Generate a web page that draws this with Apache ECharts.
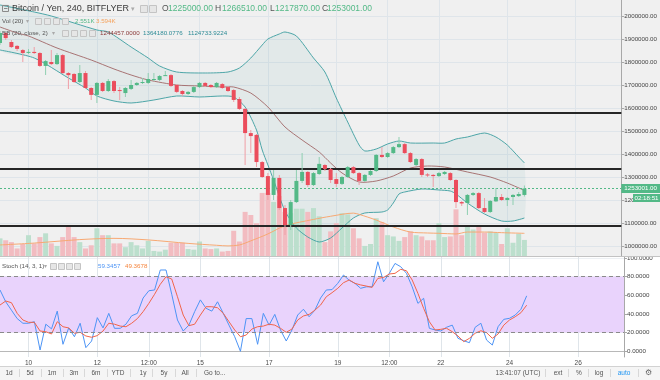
<!DOCTYPE html>
<html>
<head>
<meta charset="utf-8">
<script src="https://cdn.jsdelivr.net/npm/echarts@6/dist/echarts.min.js"></script>
<style>
html,body{margin:0;padding:0;background:#fff;}
#chart{width:660px;height:380px;}
</style>
</head>
<body>
<div id="chart"></div>
<script>
// ---------- data ----------
const slotCount = 110;
const tickIndex = [5, 17, 26, 35, 47, 59, 68, 77, 89, 101];
const tickText = ['10', '12', '12:00', '15', '17', '19', '12:00', '22', '24', '26'];

const open = [1886000,1929000,1890000,1873000,1855000,1844000,1847000,1842000,1786000,1803000,
1794000,1833000,1755000,1751000,1716000,1755000,1690000,1660000,1712000,1677000,
1720000,1681000,1668000,1686000,1703000,1712000,1712000,1725000,1725000,1744000,
1746000,1703000,1677000,1664000,1673000,1694000,1712000,1703000,1694000,1707000,
1694000,1681000,1642000,1599000,1494000,1486000,1368000,1307000,1225000,1299000,
1168000,1094000,1194000,1286000,1325000,1268000,1316000,1355000,1338000,1294000,
1273000,1303000,1346000,1320000,1286000,1312000,1329000,1399000,1390000,1407000,
1433000,1446000,1407000,1355000,1381000,1314000,1312000,1307000,1316000,1320000,
1290000,1194000,1190000,1225000,1233000,1168000,1151000,1197000,1216000,1203000,
1216000,1220000,1225000];
const close = [1929000,1907000,1868000,1860000,1842000,1847000,1842000,1786000,1807000,1794000,
1833000,1755000,1746000,1716000,1755000,1690000,1660000,1712000,1677000,1720000,
1677000,1677000,1690000,1703000,1712000,1716000,1729000,1729000,1742000,1746000,
1699000,1673000,1664000,1673000,1694000,1712000,1699000,1694000,1712000,1690000,
1677000,1638000,1599000,1494000,1481000,1368000,1303000,1225000,1299000,1168000,
1094000,1194000,1286000,1325000,1268000,1320000,1360000,1338000,1290000,1273000,
1303000,1346000,1320000,1286000,1312000,1329000,1399000,1390000,1407000,1433000,
1446000,1407000,1368000,1381000,1312000,1310000,1307000,1320000,1325000,1290000,
1194000,1188000,1225000,1233000,1168000,1151000,1199000,1216000,1203000,1212000,
1225000,1229000,1253001];
const low = [1877000,1899000,1864000,1851000,1803000,1838000,1838000,1781000,1746000,1790000,
1790000,1751000,1686000,1712000,1712000,1686000,1638000,1625000,1673000,1673000,
1668000,1638000,1651000,1681000,1699000,1707000,1707000,1720000,1720000,1742000,
1694000,1668000,1655000,1660000,1668000,1690000,1694000,1690000,1690000,1686000,
1673000,1629000,1594000,1355000,1407000,1346000,1299000,1203000,1203000,1160000,
1051000,1073000,1190000,1277000,1260000,1264000,1312000,1329000,1277000,1260000,
1268000,1299000,1316000,1268000,1281000,1307000,1325000,1386000,1386000,1403000,
1429000,1403000,1364000,1351000,1303000,1303000,1260000,1303000,1312000,1286000,
1168000,1177000,1138000,1220000,1164000,1146000,1146000,1194000,1199000,1177000,
1181000,1216000,1217870];
const high = [1938000,1933000,1899000,1877000,1860000,1860000,1868000,1847000,1812000,1855000,
1842000,1838000,1760000,1755000,1790000,1764000,1694000,1716000,1716000,1729000,
1725000,1694000,1694000,1725000,1716000,1733000,1755000,1755000,1746000,1764000,
1751000,1707000,1681000,1677000,1699000,1716000,1716000,1707000,1716000,1712000,
1699000,1686000,1651000,1603000,1507000,1490000,1373000,1320000,1333000,1312000,
1181000,1203000,1333000,1407000,1329000,1325000,1390000,1360000,1342000,1320000,
1307000,1351000,1351000,1325000,1316000,1333000,1403000,1433000,1412000,1438000,
1477000,1451000,1412000,1386000,1386000,1320000,1316000,1325000,1329000,1325000,
1294000,1199000,1229000,1238000,1238000,1212000,1203000,1255000,1229000,1216000,
1229000,1238000,1266510];
// volume in thousands
const volume = [2.8,2.5,2.2,1.2,1.9,3.3,2.0,3.0,3.6,2.0,
1.6,3.0,4.7,3.0,2.2,1.2,1.7,4.4,3.3,3.3,
2.0,2.0,1.4,2.2,1.7,1.2,2.4,0.8,0.7,1.0,
2.1,2.1,2.1,1.1,1.0,2.3,1.2,1.1,1.2,0.7,
0.8,4.0,2.3,7.0,6.5,5.2,10.0,10.0,8.6,9.5,
7.0,6.8,7.5,7.5,7.0,7.6,6.3,2.2,3.9,5.2,
6.8,6.6,4.4,2.8,1.6,1.9,6.0,5.4,3.3,3.1,
2.4,3.0,3.9,3.3,3.1,2.5,2.5,5.2,3.0,3.1,
7.4,3.3,4.8,4.2,4.8,3.7,3.9,3.7,1.9,4.4,
2.1,3.5,2.551];
const volMA = [[0,1.75],[6,2.05],[14,2.6],[20,2.8],[26,2.55],[33,2.0],[38,1.7],[40,1.6],[42,1.75],
[44,2.4],[47,3.5],[50,4.8],[55,5.8],[58,6.3],[62,6.8],[63,6.6],[66,5.7],[69,4.6],[72,3.8],
[75,3.65],[77,3.6],[80,3.5],[82,3.8],[85,3.8],[88,3.7],[92,3.594]];
const bbUpper = [[0,2050900],[6,2020400],[9,2003000],[17,1942200],[19,1933500],[23,1868200],[26,1820400],
[28,1785600],[31,1759500],[36,1755200],[40,1759500],[42,1776900],[44,1820400],[46,1876900],[47,1903000],
[49,1924800],[50,1933500],[52,1916100],[55,1820400],[57,1759500],[59,1646500],[61,1542100],[63,1442100],
[64,1416100],[66,1424700],[68,1446500],[70,1459500],[72,1450800],[76,1450800],[78,1450800],[80,1468200],
[82,1476900],[85,1494300],[87,1476900],[89,1442100],[91,1390000],[92,1364180]];
const bbMiddle = [[0,1955200],[3,1929100],[5,1916100],[10,1863900],[16,1811700],[20,1772600],[23,1746500],
[26,1724800],[31,1703000],[35,1698700],[39,1694300],[41,1694300],[44,1668000],[47,1607400],[50,1520400],
[53,1463900],[56,1411700],[58,1363900],[60,1320400],[63,1281300],[66,1285600],[69,1307400],[72,1342100],
[75,1350800],[78,1346500],[82,1324800],[86,1303000],[89,1276900],[92,1244457]];
const bbLower = [[0,1855200],[6,1820400],[12,1733500],[15,1690000],[17,1655200],[20,1633500],[23,1624800],
[27,1637800],[31,1655200],[35,1650900],[39,1655200],[41,1650900],[43,1607400],[45,1507400],[46,1420400],
[47,1355200],[48,1290000],[50,1155200],[52,1081300],[54,1042100],[56,1020400],[58,1037800],[60,1081300],
[62,1124700],[64,1146500],[67,1150800],[68,1159500],[69,1190000],[70,1229100],[71,1237800],[74,1250800],
[77,1246500],[79,1242100],[80,1229100],[82,1190000],[85,1142100],[88,1111700],[90,1111700],[92,1124733]];
const stochK = [65.6,53,44,35,30,30,31.7,1.4,29,24,
43,7.5,25,15.6,30,3.9,11,36,25,40.6,
24.6,24.6,29,38,40.6,57,64.8,65.6,87,87,
61,33.5,21.7,28,42.4,55,46,43,53,40.6,
28,15.6,0,35,35,7.5,40.6,28,39.5,22.8,
11,22.8,38.8,45,37,44,57,65.6,66,72.7,
81.6,76,72.7,67.4,69,69,95.8,74.4,83.4,94,
90.5,83.4,69,51.3,56.7,24.6,22.8,21.7,25.7,28,
13.9,11.3,9.2,25.7,30,12,6.7,26.3,34.2,35.3,
38.8,45,59.3457];
const stochD = [49.5,53.8,52,40.6,33.5,31,31,21.7,21,18.5,
31.7,26.3,25,19.3,20.3,16.4,15,16.8,21.7,30,
29,27,26.3,30,35,42.4,51.3,61,71.7,79.8,
77.3,58.4,38.8,27.4,29,38.8,47.7,47.7,46.6,40.6,
31.7,22.8,15.6,17.4,23.8,26.3,27,29,28,24.6,
20.3,23.8,33.5,37.8,39.5,44,49.5,58.4,62.7,67.4,
73.4,76.3,72.7,71,69.8,68.4,78,79,82.7,83.4,
87.7,86.2,76.3,62,46,31.7,22.8,23.5,24.6,21,
16.4,10.3,13.9,19.3,22,19.9,13.9,18.5,28,33.5,
37,41.3,49.3678];
const levels = [1582000, 1338000, 1093000];
const priceTicks = [1000000,1100000,1200000,1300000,1400000,1500000,1600000,1700000,1800000,1900000,2000000];
const stochTicks = [0, 20, 40, 60, 80, 100];
const lastPrice = 1253001;
const countdown = '02:18:51';

// ---------- style ----------
const FONT = 'Liberation Sans, Arial, sans-serif';
const UP = '#53b987', DOWN = '#eb4d5c';
const WICK_UP = '#8fcfb1', WICK_DOWN = '#f09ea6';
const VOL_UP = '#bcdfcd', VOL_DOWN = '#f2bcc1';
const BB_EDGE = '#4da6a8', BB_MID = '#9e5f5f', BB_FILL = 'rgba(40,140,140,0.07)';
const GRID_C = '#dfe5ea';
const AX_C = '#a8a8a8';

const cats = [];
for (let i = 0; i < slotCount; i++) cats.push(String(i));
const isTick = (idx) => tickIndex.indexOf(idx) >= 0;

const chart = echarts.init(document.getElementById('chart'), null, {renderer: 'canvas'});

function renderFill(params, api) {
  const pts = bbUpper.map(d => api.coord(d)).concat(bbLower.slice().reverse().map(d => api.coord(d)));
  return {type: 'polygon', shape: {points: pts, smooth: 0.25}, style: {fill: BB_FILL}};
}
function renderBB(params, api) {
  const mk = arr => arr.map(d => api.coord(d));
  return {type: 'group', children: [
    {type: 'polyline', shape: {points: mk(bbUpper), smooth: 0.25}, style: {stroke: BB_EDGE, lineWidth: 1, fill: null}},
    {type: 'polyline', shape: {points: mk(bbLower), smooth: 0.25}, style: {stroke: BB_EDGE, lineWidth: 1, fill: null}},
    {type: 'polyline', shape: {points: mk(bbMiddle), smooth: 0.25}, style: {stroke: BB_MID, lineWidth: 1, fill: null, opacity: 0.85}}
  ]};
}
function renderCandle(params, api) {
  const i = api.value(0);
  const o = api.value(1), c = api.value(2), l = api.value(3), h = api.value(4);
  const po = api.coord([i, o]), pc = api.coord([i, c]), pl = api.coord([i, l]), ph = api.coord([i, h]);
  const up = c >= o;
  const x = po[0];
  const top = Math.min(po[1], pc[1]);
  const hgt = Math.max(1, Math.abs(po[1] - pc[1]));
  return {type: 'group', children: [
    {type: 'rect', shape: {x: x - 0.5, y: ph[1], width: 1, height: pl[1] - ph[1]}, style: {fill: up ? WICK_UP : WICK_DOWN}},
    {type: 'rect', shape: {x: x - 2, y: top, width: 4, height: hgt}, style: {fill: up ? UP : DOWN}}
  ]};
}

function txt(x, y, s, size, color, align, weight) {
  return {type: 'text', x: x, y: y, z: 100, silent: true,
    style: {text: s, fontSize: size, fill: color, fontFamily: FONT, align: align || 'left', verticalAlign: 'middle', fontWeight: weight || 'normal'}};
}
function box(x, y, w, h) {
  return {type: 'rect', z: 100, silent: true, shape: {x: x, y: y, width: w, height: h}, style: {fill: '#e6e6e6', stroke: '#c4c4c4', lineWidth: 1}};
}
function vline(x, y1, y2, c) {
  return {type: 'line', z: 100, silent: true, shape: {x1: x, y1: y1, x2: x, y2: y2}, style: {stroke: c, lineWidth: 1}};
}

const graphics = [
  {type: 'rect', z: -100, silent: true, shape: {x: 0, y: 0, width: 660, height: 257}, style: {fill: '#f0f0f0'}},
  {type: 'rect', z: -100, silent: true, shape: {x: 0, y: 366, width: 660, height: 14}, style: {fill: '#f5f5f5'}},
  {type: 'line', z: 50, silent: true, shape: {x1: 0, y1: 366.5, x2: 660, y2: 366.5}, style: {stroke: '#d2d2d2', lineWidth: 1}},
  {type: 'rect', z: 60, silent: true, shape: {x: 625, y: 251.5, width: 35, height: 5}, style: {fill: '#f0f0f0'}},
  {type: 'line', z: 61, silent: true, shape: {x1: 0, y1: 256.5, x2: 660, y2: 256.5}, style: {stroke: '#c3c3c3', lineWidth: 1}},
  // header
  {type: 'rect', z: 100, silent: true, shape: {x: 2.5, y: 5.5, width: 6, height: 6}, style: {fill: 'none', stroke: '#8a8a8a', lineWidth: 1}},
  {type: 'line', z: 100, silent: true, shape: {x1: 4, y1: 8.5, x2: 7.5, y2: 8.5}, style: {stroke: '#8a8a8a', lineWidth: 1}},
  txt(12, 9, 'Bitcoin / Yen, 240, BITFLYER', 9, '#3a3a3a'),
  txt(131, 9, '▾', 7, '#aaaaaa'),
  box(140.5, 5.5, 7, 7), box(149.5, 5.5, 7, 7),
  txt(162, 9, 'O', 8.5, '#555555'), txt(168, 9, open[open.length - 1].toFixed(2), 8.5, UP),
  txt(215, 9, 'H', 8.5, '#555555'), txt(222, 9, high[high.length - 1].toFixed(2), 8.5, UP),
  txt(270, 9, 'L', 8.5, '#555555'), txt(275, 9, low[low.length - 1].toFixed(2), 8.5, UP),
  txt(322, 9, 'C', 8.5, '#555555'), txt(327, 9, close[close.length - 1].toFixed(2), 8.5, UP),
  // vol legend
  txt(2, 21, 'Vol (20)', 6.2, '#555555'), txt(26, 21, '▾', 5.5, '#aaaaaa'),
  box(35.5, 18.5, 6, 6), box(44.5, 18.5, 6, 6), box(53.5, 18.5, 6, 6), box(62.5, 18.5, 6, 6),
  txt(75, 21, volume[volume.length - 1].toFixed(3) + 'K', 6.2, UP),
  txt(96, 21, volMA[volMA.length - 1][1].toFixed(3) + 'K', 6.2, '#f5a25d'),
  // bb legend
  txt(2, 33, 'BB (20, close, 2)', 6.2, '#555555'), txt(52, 33, '▾', 5.5, '#aaaaaa'),
  box(62.5, 30.5, 6, 6), box(71.5, 30.5, 6, 6), box(80.5, 30.5, 6, 6), box(89.5, 30.5, 6, 6),
  txt(100, 33, '1244457.0000', 6.2, '#8b3a3a'),
  txt(143, 33, '1364180.0776', 6.2, '#2e8b96'),
  txt(188, 33, '1124733.9224', 6.2, '#2e8b96'),
  // stoch legend
  txt(2, 266, 'Stoch (14, 3, 1)', 6.2, '#555555'), txt(44, 266, '▾', 5.5, '#aaaaaa'),
  box(50.5, 263.5, 6, 6), box(58.5, 263.5, 6, 6), box(66.5, 263.5, 6, 6), box(74.5, 263.5, 6, 6),
  txt(98, 266, stochK[stochK.length - 1].toFixed(4), 6.2, '#4d94f5'),
  txt(125, 266, stochD[stochD.length - 1].toFixed(4), 6.2, '#f5843c'),
  // toolbar
  txt(9, 373, '1d', 6.5, '#555555', 'center'), vline(19.5, 369, 377, '#d8d8d8'),
  txt(30, 373, '5d', 6.5, '#555555', 'center'), vline(41.5, 369, 377, '#d8d8d8'),
  txt(52, 373, '1m', 6.5, '#555555', 'center'), vline(63.5, 369, 377, '#d8d8d8'),
  txt(74, 373, '3m', 6.5, '#555555', 'center'), vline(84.5, 369, 377, '#d8d8d8'),
  txt(96, 373, '6m', 6.5, '#555555', 'center'), vline(107.5, 369, 377, '#d8d8d8'),
  txt(118, 373, 'YTD', 6.5, '#555555', 'center'), vline(130.5, 369, 377, '#d8d8d8'),
  txt(143, 373, '1y', 6.5, '#555555', 'center'), vline(152.5, 369, 377, '#d8d8d8'),
  txt(164, 373, '5y', 6.5, '#555555', 'center'), vline(175.5, 369, 377, '#d8d8d8'),
  txt(185, 373, 'All', 6.5, '#555555', 'center'), vline(196.5, 369, 377, '#d8d8d8'),
  txt(204, 373, 'Go to...', 6.5, '#555555'),
  txt(518, 373, '13:41:07 (UTC)', 6.5, '#555555', 'center'), vline(545.5, 369, 377, '#d8d8d8'),
  txt(558, 373, 'ext', 6.5, '#555555', 'center'), vline(568.5, 369, 377, '#d8d8d8'),
  txt(579, 373, '%', 6.5, '#555555', 'center'), vline(588.5, 369, 377, '#d8d8d8'),
  txt(599, 373, 'log', 6.5, '#555555', 'center'), vline(610.5, 369, 377, '#d8d8d8'),
  txt(624, 373, 'auto', 6.5, '#2196f3', 'center'), vline(638.5, 369, 377, '#d8d8d8'),
  txt(648, 373, '⚙', 8, '#666666', 'center')
];

const option = {
  animation: false,
  backgroundColor: '#ffffff',
  textStyle: {fontFamily: FONT},
  grid: [
    {left: 0, top: 0, width: 624, height: 256},
    {left: 0, top: 257, width: 624, height: 100}
  ],
  xAxis: [
    {type: 'category', gridIndex: 0, data: cats, boundaryGap: false,
     axisLine: {show: false}, axisTick: {show: false}, axisLabel: {show: false},
     splitLine: {show: true, interval: (i) => isTick(i), lineStyle: {color: GRID_C, width: 1}}},
    {type: 'category', gridIndex: 1, data: cats, boundaryGap: false,
     axisLine: {show: true, lineStyle: {color: '#b8b8b8'}}, axisTick: {show: false},
     axisLabel: {show: true, interval: (i) => isTick(i), hideOverlap: false, margin: 3, fontSize: 6.5, color: '#4a4a4a', fontFamily: FONT,
       formatter: (v, idx) => { const k = tickIndex.indexOf(Number(v)); return k >= 0 ? tickText[k] : ''; }},
     splitLine: {show: true, interval: (i) => isTick(i), lineStyle: {color: GRID_C, width: 1}}}
  ],
  yAxis: [
    {type: 'value', gridIndex: 0, position: 'right', min: 959500, max: 2072600, scale: true,
     axisLine: {show: true, lineStyle: {color: AX_C}},
     axisTick: {show: true, length: 3, inside: false, customValues: priceTicks, lineStyle: {color: AX_C}},
     axisLabel: {show: true, customValues: priceTicks, formatter: (v) => Number(v).toFixed(2), fontSize: 6.2, color: '#444444', margin: 3, fontFamily: FONT},
     splitLine: {show: true, lineStyle: {color: GRID_C, width: 1}}},
    {type: 'value', gridIndex: 0, min: 0, max: 40.6, show: false, splitLine: {show: false}},
    {type: 'value', gridIndex: 1, position: 'right', min: -6.1, max: 100.9,
     axisLine: {show: true, lineStyle: {color: AX_C}},
     axisTick: {show: true, length: 3, customValues: stochTicks, lineStyle: {color: AX_C}},
     axisLabel: {show: true, customValues: stochTicks, formatter: (v) => Number(v).toFixed(4), fontSize: 6.2, color: '#444444', margin: 3, fontFamily: FONT},
     splitLine: {show: true, lineStyle: {color: '#edf0f3', width: 1}}}
  ],
  series: [
    {type: 'custom', name: 'bbfill', xAxisIndex: 0, yAxisIndex: 0, z: 1, silent: true,
     data: [[0, bbMiddle[0][1]]], renderItem: renderFill},
    {type: 'bar', name: 'vol', xAxisIndex: 0, yAxisIndex: 1, z: 2, silent: true, barWidth: 5,
     data: volume.map((v, i) => ({value: v, itemStyle: {color: close[i] >= open[i] ? VOL_UP : VOL_DOWN}}))},
    {type: 'line', name: 'volma', xAxisIndex: 0, yAxisIndex: 1, z: 3, silent: true, symbol: 'none', smooth: 0.3,
     data: volMA, lineStyle: {color: '#f7a872', width: 1}},
    {type: 'custom', name: 'bb', xAxisIndex: 0, yAxisIndex: 0, z: 3, silent: true,
     data: [[0, bbMiddle[0][1]]], renderItem: renderBB},
    {type: 'line', name: 'levels', xAxisIndex: 0, yAxisIndex: 0, z: 4, silent: true, symbol: 'none',
     data: close, lineStyle: {opacity: 0, width: 0},
     markLine: {silent: true, symbol: ['none', 'none'], animation: false,
       data: levels.map(v => ({yAxis: v, lineStyle: {color: '#262626', width: 2, type: 'solid'}, label: {show: false}})).concat([
         {yAxis: lastPrice, lineStyle: {color: UP, width: 1, type: [2, 2]},
          label: {show: true, position: 'end', distance: 0, formatter: lastPrice.toFixed(2), color: '#ffffff',
                  backgroundColor: UP, padding: [1, 3, 1, 3], fontSize: 6.2, lineHeight: 7, fontFamily: FONT}}
       ])}},
    {type: 'custom', name: 'candles', xAxisIndex: 0, yAxisIndex: 0, z: 5, silent: true,
     dimensions: ['i', 'o', 'c', 'l', 'h'], encode: {x: 0, y: [1, 2, 3, 4]},
     data: open.map((o, i) => [i, o, close[i], low[i], high[i]]), renderItem: renderCandle},
    {type: 'line', name: 'stochband', xAxisIndex: 1, yAxisIndex: 2, z: 1, silent: true, symbol: 'none',
     data: stochK, lineStyle: {opacity: 0, width: 0},
     markArea: {silent: true, itemStyle: {color: '#e9d3fc'}, data: [[{yAxis: 20}, {yAxis: 80}]]},
     markLine: {silent: true, symbol: ['none', 'none'], label: {show: false},
       lineStyle: {color: '#8a8a8a', width: 1, type: [4, 3]}, data: [{yAxis: 80}, {yAxis: 20}]}},
    {type: 'line', name: 'K', xAxisIndex: 1, yAxisIndex: 2, z: 4, silent: true, symbol: 'none',
     data: stochK, lineStyle: {color: '#4d94f5', width: 1}},
    {type: 'line', name: 'D', xAxisIndex: 1, yAxisIndex: 2, z: 4, silent: true, symbol: 'none',
     data: stochD, lineStyle: {color: '#f0654b', width: 1}}
  ],
  graphic: {elements: graphics}
};
chart.setOption(option);

const yLast = chart.convertToPixel({yAxisIndex: 0}, lastPrice);
const gridRight = chart.convertToPixel({xAxisIndex: 0}, slotCount - 1);
const cdW = 27;
graphics.push({type: 'rect', z: 110, silent: true, shape: {x: 660 - cdW, y: yLast + 5.5, width: cdW, height: 8}, style: {fill: UP}});
graphics.push(txt(660 - cdW / 2, yLast + 9.5, countdown, 6.2, '#ffffff', 'center'));
graphics[graphics.length - 1].z = 111;
chart.setOption({graphic: {elements: graphics}});
</script>
</body>
</html>
